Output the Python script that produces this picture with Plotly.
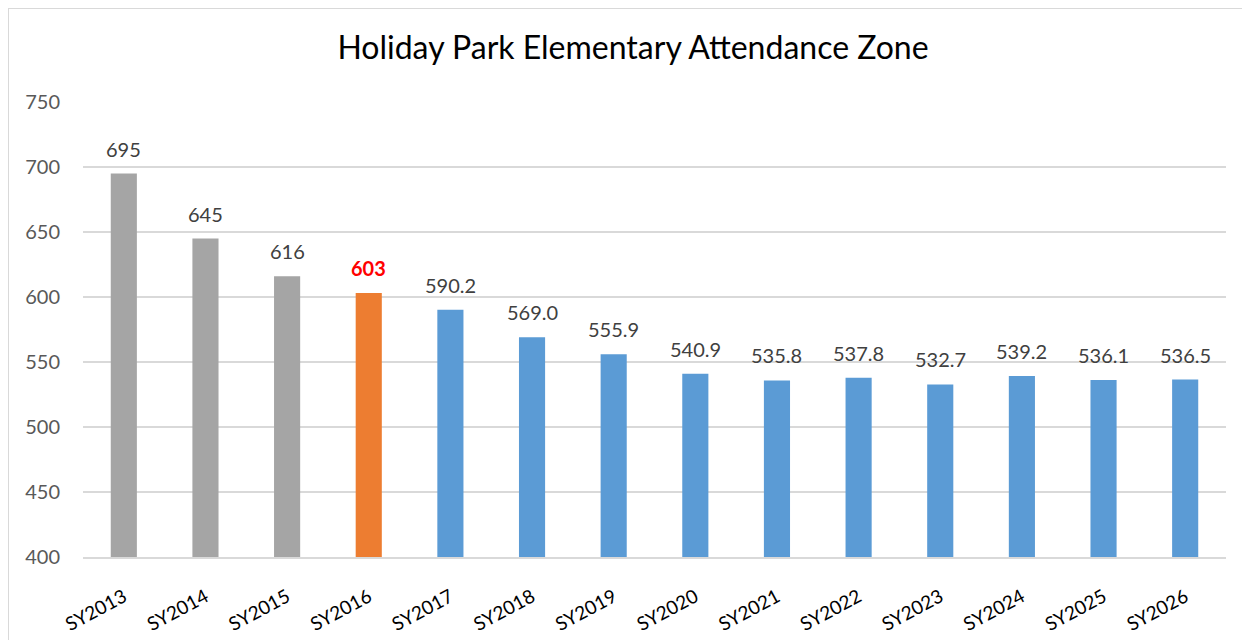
import plotly.graph_objects as go

categories = ["SY2013", "SY2014", "SY2015", "SY2016", "SY2017", "SY2018", "SY2019",
              "SY2020", "SY2021", "SY2022", "SY2023", "SY2024", "SY2025", "SY2026"]
values = [695, 645, 616, 603, 590.2, 569.0, 555.9, 540.9, 535.8, 537.8, 532.7, 539.2, 536.1, 536.5]
labels = ["695", "645", "616", "603", "590.2", "569.0", "555.9", "540.9", "535.8",
          "537.8", "532.7", "539.2", "536.1", "536.5"]
kinds = ["actual"] * 3 + ["current"] + ["projected"] * 10

color_map = {"actual": "#a5a5a5", "current": "#ed7d31", "projected": "#5b9bd5"}
colors = [color_map[k] for k in kinds]

FONT = "Lato, 'Open Sans', sans-serif"

fig = go.Figure(go.Bar(
    x=categories, y=values, marker=dict(color=colors, line=dict(width=0)),
    width=0.32, hoverinfo="x+y",
))

for c, v, l, k in zip(categories, values, labels, kinds):
    cur = k == "current"
    fig.add_annotation(
        x=c, y=v, text=f"<b>{l}</b>" if cur else l, showarrow=False,
        yanchor="middle", yshift=25,
        font=dict(family=FONT, size=20, color="#ff0000" if cur else "#404040"),
    )

W, H = 1250, 640
L, R, T, B = 75, 32, 94, 91
pw, ph = W - L - R, H - T - B

fig.update_layout(
    width=W, height=H,
    margin=dict(l=L, r=R, t=T, b=B),
    paper_bgcolor="white", plot_bgcolor="white",
    title=dict(text="Holiday Park Elementary Attendance Zone", x=0.5, xanchor="center",
               y=1 - 40 / H, yanchor="middle",
               font=dict(family=FONT, size=32, color="#000000")),
    font=dict(family=FONT),
    showlegend=False,
)
fig.update_yaxes(range=[400, 750], dtick=50, showgrid=True, gridcolor="#d9d9d9", gridwidth=1.5,
                 zeroline=False, showline=False, ticks="",
                 tickfont=dict(size=20, color="#595959", family=FONT), ticklabelstandoff=22)
fig.update_xaxes(showline=True, linecolor="#d9d9d9", linewidth=1.5, ticks="", tickangle=-28,
                 tickfont=dict(size=19, color="#000000", family=FONT), ticklabelstandoff=20)

fig.add_shape(type="rect", xref="paper", yref="paper",
              x0=(0 - L) / pw, x1=(W + 20 - L) / pw,
              y0=-(H + 20 - (H - B)) / ph, y1=1 + (T - 0) / ph,
              line=dict(color="#d9d9d9", width=2), fillcolor="rgba(0,0,0,0)", layer="below")

fig.write_html("out.html")
